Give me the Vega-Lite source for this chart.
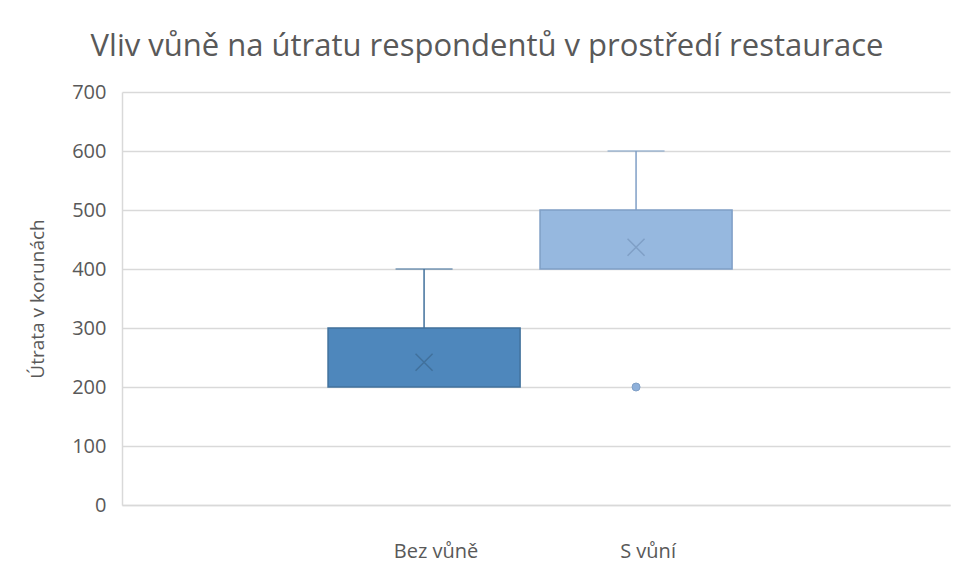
{
  "$schema": "https://vega.github.io/schema/vega-lite/v6.json",
  "autosize": "none",
  "width": 828,
  "height": 413,
  "padding": {"left": 122, "top": 92, "right": 4, "bottom": 74},
  "background": "white",
  "config": {
    "view": {"stroke": null},
    "font": "Open Sans"
  },
  "title": {
    "text": "Vliv vůně na útratu respondentů v prostředí restaurace",
    "fontSize": 31,
    "font": "Open Sans",
    "fontWeight": "normal",
    "color": "#595959",
    "anchor": "middle",
    "dx": -49,
    "offset": 19
  },
  "datasets": {
    "boxes": [
      {"group": "Bez vůně", "min": 200, "q1": 200, "median": 200, "q3": 300, "max": 400, "mean": 242},
      {"group": "S vůní", "min": 400, "q1": 400, "median": 500, "q3": 500, "max": 600, "mean": 437}
    ],
    "outliers": [
      {"group": "S vůní", "value": 200}
    ]
  },
  "data": {"name": "boxes"},
  "encoding": {
    "x": {
      "field": "group",
      "type": "nominal",
      "scale": {"type": "band", "domain": ["Bez vůně", "S vůní"], "paddingInner": 0.094, "paddingOuter": 1.0, "align": 0.486},
      "axis": {
        "title": null,
        "labelAngle": 0,
        "labelFontSize": 20,
        "labelColor": "#595959",
        "labelPadding": 36,
        "labelOffset": 12,
        "ticks": false,
        "domain": true,
        "domainColor": "#d9d9d9",
        "domainWidth": 1.5,
        "grid": false
      }
    }
  },
  "layer": [
    {
      "mark": {"type": "rule", "strokeWidth": 1.5},
      "encoding": {
        "y": {
          "field": "q3",
          "type": "quantitative",
          "scale": {"domain": [0, 700], "nice": false},
          "axis": {
            "title": "Útrata v korunách",
            "titleFontSize": 19,
            "titleFontWeight": "normal",
            "titleColor": "#595959",
            "titlePadding": 24,
            "values": [0, 100, 200, 300, 400, 500, 600, 700],
            "labelFontSize": 20,
            "labelColor": "#595959",
            "labelPadding": 16,
            "ticks": false,
            "domain": true,
            "domainColor": "#d9d9d9",
            "domainWidth": 1.5,
            "grid": true,
            "gridColor": "#d9d9d9",
            "gridWidth": 1.5
          }
        },
        "y2": {"field": "max"},
        "stroke": {"field": "group", "type": "nominal", "scale": {"domain": ["Bez vůně", "S vůní"], "range": ["#41719c", "#7f9fc6"]}, "legend": null}
      }
    },
    {
      "mark": {"type": "tick", "size": 57, "thickness": 1.5},
      "encoding": {
        "y": {"field": "max", "type": "quantitative"},
        "color": {"field": "group", "type": "nominal", "scale": {"domain": ["Bez vůně", "S vůní"], "range": ["#41719c", "#7f9fc6"]}, "legend": null}
      }
    },
    {
      "mark": {"type": "bar", "strokeWidth": 1.5},
      "encoding": {
        "y": {"field": "q1", "type": "quantitative"},
        "y2": {"field": "q3"},
        "fill": {"field": "group", "type": "nominal", "scale": {"domain": ["Bez vůně", "S vůní"], "range": ["#4e87bc", "#96b8df"]}, "legend": null},
        "stroke": {"field": "group", "type": "nominal", "legend": null}
      }
    },
    {
      "mark": {"type": "point", "shape": "M-1,-1L1,1M-1,1L1,-1", "size": 289, "strokeWidth": 1.5, "filled": false, "opacity": 1},
      "encoding": {
        "y": {"field": "mean", "type": "quantitative"},
        "stroke": {"field": "group", "type": "nominal", "legend": null}
      }
    },
    {
      "data": {"name": "outliers"},
      "mark": {"type": "point", "shape": "circle", "size": 64, "filled": true, "fill": "#8eb0da", "stroke": "#7f9fc6", "strokeWidth": 1, "opacity": 1},
      "encoding": {
        "y": {"field": "value", "type": "quantitative"}
      }
    }
  ]
}
